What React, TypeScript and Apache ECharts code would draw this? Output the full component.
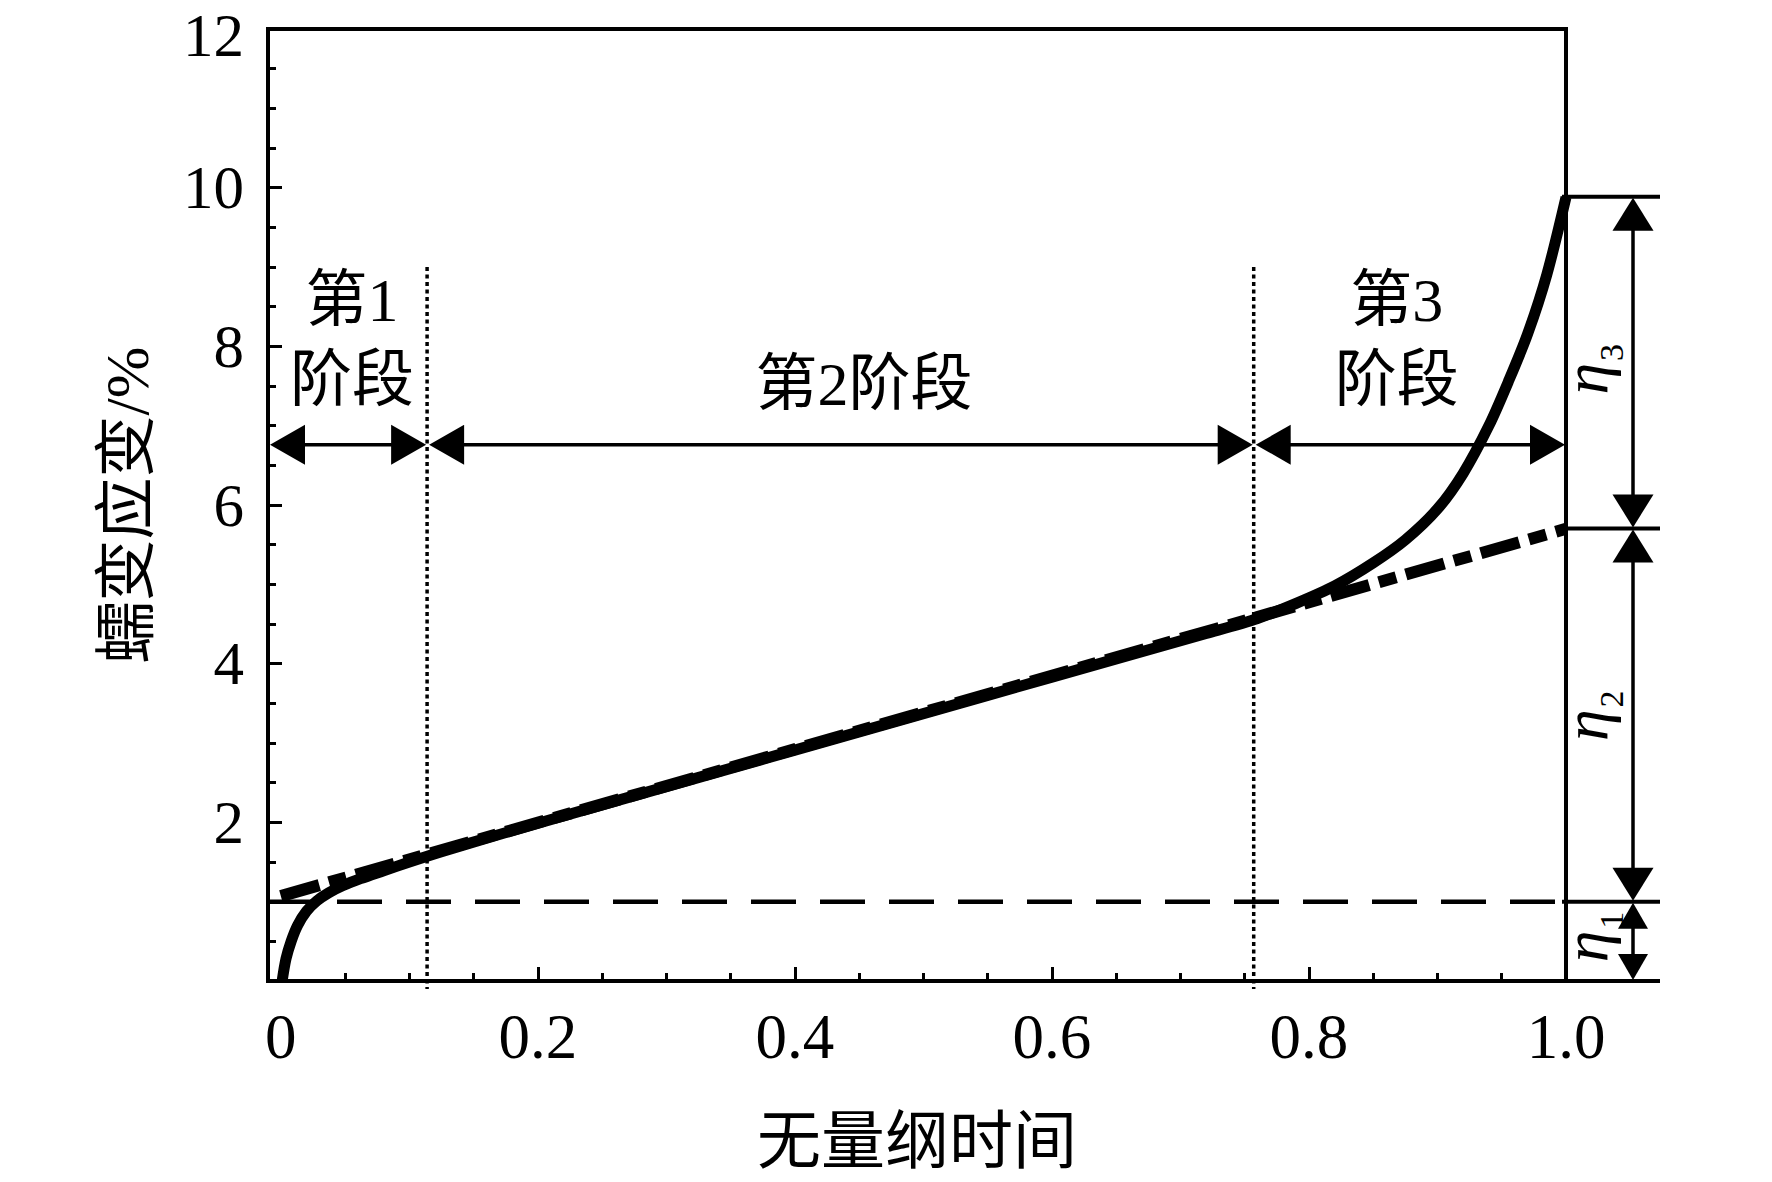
import React, { useEffect, useRef } from "react";
import * as echarts from "echarts";

// ---------- data ----------
const xTicks = [0, 0.2, 0.4, 0.6, 0.8, 1.0];
const xMinorTicks = [0.05, 0.1, 0.15, 0.25, 0.3, 0.35, 0.45, 0.5, 0.55, 0.65, 0.7, 0.75, 0.85, 0.9, 0.95];
const yTicks = [0, 2, 4, 6, 8, 10, 12];

const creepX = [0.001, 0.004, 0.008, 0.013, 0.02, 0.028, 0.037, 0.048, 0.062, 0.08, 0.1, 0.125, 0.16, 0.25, 0.35, 0.45, 0.55, 0.65, 0.72, 0.76, 0.79, 0.82, 0.85, 0.875, 0.9, 0.92, 0.94, 0.955, 0.97, 0.985, 1.0];
const creepY = [0.0, 0.28, 0.5, 0.7, 0.88, 1.01, 1.11, 1.2, 1.29, 1.39, 1.5, 1.63, 1.8, 2.22, 2.68, 3.14, 3.6, 4.06, 4.38, 4.57, 4.76, 4.98, 5.27, 5.56, 5.95, 6.4, 7.0, 7.55, 8.15, 8.9, 9.88];

const steadyX = [0, 1.0];
const steadyY = [1.07, 5.7];

const baseStrain = 1.0; // dashed level (eta1)
const stageBounds = [0.1138, 0.757];
const stageTop = 9.0;
const stageArrowY = 6.76;
const stageNames = ["第1\n阶段", "第2阶段", "第3\n阶段"];
const etaLevels = [9.885, 5.705, 1.0, 0];
const etaSubs = ["3", "2", "1"];

const X_MIN = -0.01;
const X_MAX = 1.0;

const SERIF = "'Liberation Serif', 'Noto Sans CJK SC', serif";

function buildOption(): any {
  const curve = creepX.map((x, i) => [x, creepY[i]]);
  const steady = steadyX.map((x, i) => [x, steadyY[i]]);
  const yMax = yTicks[yTicks.length - 1];

  const renderAnno = (_params: any, api: any) => {
    const c = (x: number, y: number) => api.coord([x, y]);
    const black = "#000";
    const children: any[] = [];
    const line = (x1: number, y1: number, x2: number, y2: number, w: number) => ({
      type: "line",
      shape: { x1, y1, x2, y2 },
      style: { stroke: black, lineWidth: w },
    });
    const tri = (pts: number[][]) => ({ type: "polygon", shape: { points: pts }, style: { fill: black } });

    // stage double arrows
    const ranges = [
      [X_MIN, stageBounds[0]],
      [stageBounds[0], stageBounds[1]],
      [stageBounds[1], X_MAX],
    ];
    const AL = 35;
    const AH = 20;
    ranges.forEach(([a, b]) => {
      const p0 = c(a, stageArrowY);
      const p1 = c(b, stageArrowY);
      const y = p0[1];
      const x0 = p0[0] + 2;
      const x1 = p1[0] - 1;
      children.push(line(x0 + AL - 2, y, x1 - AL + 2, y, 3.5));
      children.push(tri([[x0, y], [x0 + AL, y - AH], [x0 + AL, y + AH]]));
      children.push(tri([[x1, y], [x1 - AL, y - AH], [x1 - AL, y + AH]]));
    });

    // right-side level lines and eta arrows
    const fx = c(X_MAX, 0)[0];
    const ax = fx + 67;
    const ex = fx + 94;
    etaLevels.forEach((v) => {
      const y = c(X_MAX, v)[1];
      children.push(line(fx - 4, y, ex, y, 4));
    });
    for (let i = 0; i < 3; i++) {
      const top = c(X_MAX, etaLevels[i])[1];
      const bot = c(X_MAX, etaLevels[i + 1])[1];
      const w = i < 2 ? 20.5 : 15;
      const h = i < 2 ? 34 : 27;
      children.push(line(ax, top + h - 2, ax, bot - h + 2, 3.5));
      children.push(tri([[ax, top + 1], [ax - w, top + h], [ax + w, top + h]]));
      children.push(tri([[ax, bot - 1], [ax - w, bot - h], [ax + w, bot - h]]));
      const my = (top + bot) / 2 + (i === 0 ? 6 : i === 2 ? -5 : 0);
      children.push({
        type: "group",
        x: fx + 32,
        y: my,
        rotation: Math.PI / 2,
        children: [
          {
            type: "text",
            x: -10,
            y: -13,
            style: {
              text: "η",
              fontSize: 64,
              fontStyle: "italic",
              fontFamily: "'Liberation Serif', serif",
              fill: black,
              align: "center",
              verticalAlign: "middle",
            },
          },
          {
            type: "text",
            x: 16,
            y: 13,
            style: {
              text: etaSubs[i],
              fontSize: 34,
              fontFamily: "'Liberation Serif', serif",
              fill: black,
              align: "center",
              verticalAlign: "middle",
            },
          },
        ],
      });
    }

    // stage labels
    const anchors = [
      [0.0554, 8.08],
      [0.4537, 7.52],
      [0.8683, 8.08],
    ];
    stageNames.forEach((t, i) => {
      const p = c(anchors[i][0], anchors[i][1]);
      children.push({
        type: "text",
        x: p[0],
        y: p[1],
        style: {
          text: t,
          fontSize: 62,
          lineHeight: 80,
          fontFamily: SERIF,
          fill: black,
          align: "center",
          verticalAlign: "middle",
        },
      });
    });

    return { type: "group", children };
  };

  return {
    animation: false,
    backgroundColor: "#ffffff",
    grid: {
      left: 268,
      right: 206,
      top: 29,
      bottom: 201,
      show: true,
      borderColor: "#000",
      borderWidth: 4,
      backgroundColor: "transparent",
    },
    xAxis: [
      {
        type: "value",
        min: X_MIN,
        max: X_MAX,
        position: "bottom",
        axisLine: { show: true, onZero: false, lineStyle: { color: "#000", width: 4 } },
        axisTick: { show: true, inside: true, length: 14, customValues: xTicks, lineStyle: { color: "#000", width: 3 } },
        axisLabel: {
          show: true,
          customValues: xTicks,
          formatter: (v: number) => (v === 0 ? "0" : v.toFixed(1)),
          fontSize: 63,
          fontFamily: SERIF,
          color: "#000",
          margin: 24,
        },
        splitLine: { show: false },
        name: "无量纲时间",
        nameLocation: "middle",
        nameGap: 160,
        nameTextStyle: { fontSize: 64, fontFamily: SERIF, color: "#000", verticalAlign: "middle" },
      },
      {
        type: "value",
        min: X_MIN,
        max: X_MAX,
        position: "bottom",
        axisLine: { show: false },
        axisTick: { show: true, inside: true, length: 8, customValues: xMinorTicks, lineStyle: { color: "#000", width: 3 } },
        axisLabel: { show: false },
        splitLine: { show: false },
      },
    ],
    yAxis: [
      {
        type: "value",
        min: yTicks[0],
        max: yMax,
        interval: 2,
        axisLine: { show: true, onZero: false, lineStyle: { color: "#000", width: 4 } },
        axisTick: { show: true, inside: true, length: 14, lineStyle: { color: "#000", width: 3 } },
        minorTick: { show: true, splitNumber: 4, length: 8, lineStyle: { color: "#000", width: 3 } },
        axisLabel: {
          formatter: (v: number) => (v === 0 ? "" : v === yMax ? "{t|" + v + "}" : String(v)),
          fontSize: 61,
          fontFamily: SERIF,
          color: "#000",
          margin: 24,
          rich: {
            t: { fontSize: 61, fontFamily: SERIF, color: "#000", padding: [12, 0, 0, 0] },
          },
        },
        splitLine: { show: false },
        minorSplitLine: { show: false },
        name: "蠕变应变/%",
        nameLocation: "middle",
        nameGap: 141,
        nameRotate: 90,
        nameTextStyle: { fontSize: 62, fontFamily: SERIF, color: "#000", verticalAlign: "middle" },
      },
    ],
    series: [
      {
        type: "line",
        name: "steady",
        data: steady,
        symbol: "none",
        silent: true,
        z: 3,
        lineStyle: { color: "#000", width: 12, type: [40, 10, 18, 10], cap: "butt" },
      },
      {
        type: "line",
        name: "creep",
        data: curve,
        symbol: "none",
        smooth: 0.3,
        silent: true,
        z: 4,
        lineStyle: { color: "#000", width: 11, cap: "butt", join: "round" },
      },
      {
        type: "line",
        name: "base",
        data: [
          [X_MIN, baseStrain],
          [X_MAX, baseStrain],
        ],
        symbol: "none",
        silent: true,
        z: 2,
        lineStyle: { color: "#000", width: 4.5, type: [45, 24], cap: "butt" },
      },
      ...stageBounds.map((b) => ({
        type: "line",
        data: [
          [b, stageTop],
          [b, -0.1],
        ],
        symbol: "none",
        silent: true,
        clip: false,
        z: 2,
        lineStyle: { color: "#000", width: 3.5, type: [4, 3.5], cap: "butt" },
      })),
      {
        type: "custom",
        name: "annotations",
        coordinateSystem: "cartesian2d",
        data: [[0, 0]],
        clip: false,
        silent: true,
        z: 5,
        renderItem: renderAnno,
      },
    ],
  };
}

export default function App() {
  const ref = useRef<HTMLDivElement>(null);
  useEffect(() => {
    if (!ref.current) return;
    const chart = echarts.init(ref.current, null, { renderer: "svg" });
    chart.setOption(buildOption());
    return () => chart.dispose();
  }, []);
  return (
    <div
      ref={ref}
      style={{ position: "fixed", left: 0, top: 0, width: 1772, height: 1182, background: "#ffffff" }}
    />
  );
}
